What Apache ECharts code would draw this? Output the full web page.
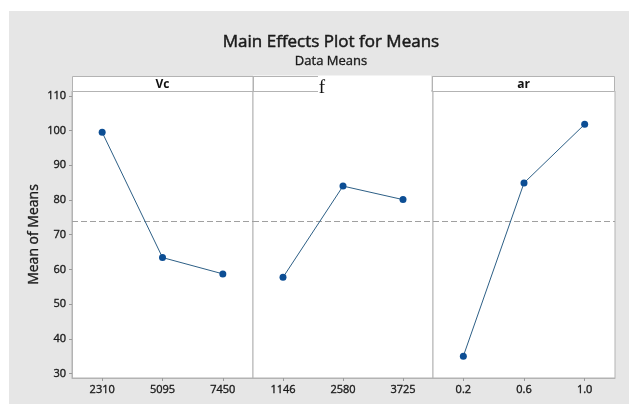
<!DOCTYPE html>
<html>
<head>
<meta charset="utf-8">
<script src="https://cdn.jsdelivr.net/npm/echarts@6/dist/echarts.min.js"></script>
<style>
  html, body { margin: 0; padding: 0; background: #e6e6e6; overflow: hidden; }
  #chart { width: 629px; height: 404px; }
</style>
</head>
<body>
<div id="chart"></div>
<script>
// Factor levels and the mean response at each level
const vcLevels = ['2310', '5095', '7450'];
const vcMeans = [99.5, 63.4, 58.7];
const fLevels = ['1146', '2580', '3725'];
const fMeans = [57.7, 84.0, 80.1];
const arLevels = ['0.2', '0.6', '1.0'];
const arMeans = [35.0, 84.9, 101.8];
const panelNames = ['Vc', 'f', 'ar'];
const yTicks = [30, 40, 50, 60, 70, 80, 90, 100, 110];

const levels = [vcLevels, fLevels, arLevels];
const means = [vcMeans, fMeans, arMeans];

// grand mean of all level means (the dashed reference line)
const allMeans = vcMeans.concat(fMeans, arMeans);
const grandMean = allMeans.reduce((a, b) => a + b, 0) / allMeans.length;

const FONT = '"Open Sans", "Noto Sans", sans-serif';
const BORDER = '#b3b3b3';
const INK = '#1a1a1a';
const Y_MIN = 28.7, Y_MAX = 111.4;

// a thin outline of the same colour thickens the glyphs a little
const heavy = { textBorderColor: INK, textBorderWidth: 0.35 };

// panel geometry (px)
const panels = [
  { left: 72, width: 181 },
  { left: 253, width: 180 },
  { left: 433, width: 182 }
];
const TOP = 91, BOTTOM = 378;

const grids = panels.map(p => ({
  left: p.left, width: p.width, top: TOP, height: BOTTOM - TOP,
  show: true, backgroundColor: '#ffffff', borderColor: BORDER, borderWidth: 1,
  containLabel: false
}));

const xAxes = levels.map((lv, i) => ({
  type: 'category', gridIndex: i, data: lv, boundaryGap: true,
  axisLine: { show: true, lineStyle: { color: BORDER } },
  axisTick: { show: true, alignWithLabel: true, length: 3, lineStyle: { color: '#9a9a9a' } },
  axisLabel: Object.assign({ margin: 6, fontFamily: FONT, fontSize: 11, color: INK }, heavy),
  splitLine: { show: false }
}));

const yAxes = levels.map((lv, i) => ({
  type: 'value', gridIndex: i, min: Y_MIN, max: Y_MAX,
  name: i === 0 ? 'Mean of Means' : '',
  nameLocation: 'middle', nameRotate: 90, nameGap: 31,
  nameTextStyle: Object.assign({ fontFamily: FONT, fontSize: 14, color: INK }, heavy),
  axisLine: { show: i === 0, lineStyle: { color: BORDER } },
  axisTick: { show: i === 0, length: 3, customValues: yTicks, lineStyle: { color: '#9a9a9a' } },
  axisLabel: Object.assign({ show: i === 0, margin: 6, customValues: yTicks, fontFamily: FONT, fontSize: 11, color: INK }, heavy),
  splitLine: { show: false }
}));

const series = means.map((m, i) => ({
  type: 'line', xAxisIndex: i, yAxisIndex: i, data: m,
  symbol: 'circle', symbolSize: 7,
  itemStyle: { color: '#0c4e94' },
  lineStyle: { color: '#2d5f86', width: 1 },
  markLine: {
    silent: true, symbol: 'none', label: { show: false },
    lineStyle: { color: '#a0a0a0', width: 1, type: [6, 3] },
    data: [{ yAxis: grandMean }]
  },
  z: 5
}));

// header strips above each panel
const headerText = (txt, x) => ({
  type: 'text', x: x, y: 84.5,
  style: { text: txt, fontFamily: FONT, fontSize: 12, fontWeight: 'bold', fill: '#111', textAlign: 'center', textVerticalAlign: 'middle' },
  z: 11
});
const graphics = [
  // white margin strips
  { type: 'rect', shape: { x: 0, y: 0, width: 629, height: 11 }, style: { fill: '#ffffff' }, z: 1 },
  { type: 'rect', shape: { x: 0, y: 0, width: 9, height: 404 }, style: { fill: '#ffffff' }, z: 1 },
  // Vc header
  { type: 'rect', shape: { x: 72.5, y: 76.5, width: 180.5, height: 15 }, style: { fill: '#fff', stroke: BORDER, lineWidth: 1 }, z: 10 },
  headerText(panelNames[0], 162.5),
  // f header
  { type: 'rect', shape: { x: 253, y: 75.5, width: 178, height: 16 }, style: { fill: '#fff' }, z: 10 },
  { type: 'rect', shape: { x: 318, y: 90, width: 113, height: 3 }, style: { fill: '#fff' }, z: 10 },
  { type: 'line', shape: { x1: 253, y1: 76.5, x2: 318, y2: 76.5 }, style: { stroke: BORDER, lineWidth: 1 }, z: 10 },
  { type: 'line', shape: { x1: 253, y1: 91.5, x2: 318, y2: 91.5 }, style: { stroke: BORDER, lineWidth: 1 }, z: 10 },
  { type: 'line', shape: { x1: 253.5, y1: 76, x2: 253.5, y2: 92 }, style: { stroke: BORDER, lineWidth: 1 }, z: 10 },
  { type: 'line', shape: { x1: 432.5, y1: 76, x2: 432.5, y2: 92 }, style: { stroke: BORDER, lineWidth: 1 }, z: 10 },
  { type: 'text', x: 322, y: 88, style: { text: panelNames[1], fontFamily: '"Liberation Serif", "DejaVu Serif", serif', fontSize: 19, fill: '#111', textAlign: 'center', textVerticalAlign: 'middle' }, z: 11 },
  // ar header
  { type: 'rect', shape: { x: 432.5, y: 76.5, width: 182, height: 15 }, style: { fill: '#fff', stroke: BORDER, lineWidth: 1 }, z: 10 },
  headerText(panelNames[2], 523.5)
];

const chart = echarts.init(document.getElementById('chart'), null, { renderer: 'canvas' });
chart.setOption({
  animation: false,
  backgroundColor: '#e6e6e6',
  title: [
    { text: 'Main Effects Plot for Means', left: 326, top: 29, textAlign: 'center',
      textStyle: Object.assign({ fontFamily: FONT, fontSize: 17, fontWeight: 'normal', color: INK }, heavy, { textBorderWidth: 0.5 }) },
    { text: 'Data Means', left: 326, top: 50, textAlign: 'center',
      textStyle: Object.assign({ fontFamily: FONT, fontSize: 13, fontWeight: 'normal', color: INK }, heavy) }
  ],
  grid: grids,
  xAxis: xAxes,
  yAxis: yAxes,
  series: series,
  graphic: graphics
});
</script>
</body>
</html>
